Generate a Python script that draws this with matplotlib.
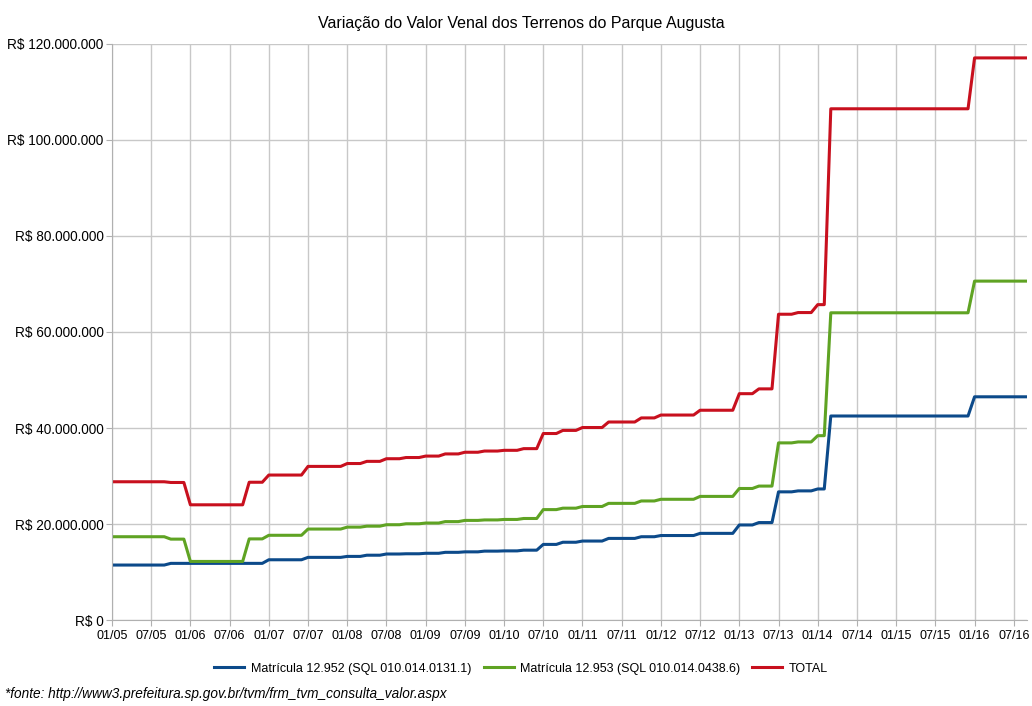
import matplotlib.pyplot as plt
from matplotlib.ticker import FuncFormatter, MultipleLocator

# valores mensais (milhoes de R$), 01/2005 .. 09/2016
blue = [11.45, 11.45, 11.45, 11.45, 11.45, 11.45, 11.45, 11.45, 11.45, 11.8, 11.8, 11.8,
        11.8, 11.8, 11.8, 11.8, 11.8, 11.8, 11.8, 11.8, 11.8, 11.8, 11.8, 11.8,
        12.55, 12.55, 12.55, 12.55, 12.55, 12.55, 13.05, 13.05, 13.05, 13.05, 13.05, 13.05,
        13.25, 13.25, 13.25, 13.5, 13.5, 13.5, 13.75, 13.75, 13.75, 13.8, 13.8, 13.8,
        13.9, 13.9, 13.9, 14.1, 14.1, 14.1, 14.2, 14.2, 14.2, 14.35, 14.35, 14.35,
        14.4, 14.4, 14.4, 14.55, 14.55, 14.55, 15.75, 15.75, 15.75, 16.2, 16.2, 16.2,
        16.45, 16.45, 16.45, 16.45, 17.0, 17.0, 17.0, 17.0, 17.0, 17.35, 17.35, 17.35,
        17.6, 17.6, 17.6, 17.6, 17.6, 17.6, 18.05, 18.05, 18.05, 18.05, 18.05, 18.05,
        19.8, 19.8, 19.8, 20.3, 20.3, 20.3, 26.7, 26.7, 26.7, 26.9, 26.9, 26.9,
        27.3, 27.3, 42.5, 42.5, 42.5, 42.5, 42.5, 42.5, 42.5, 42.5, 42.5, 42.5,
        42.5, 42.5, 42.5, 42.5, 42.5, 42.5, 42.5, 42.5, 42.5, 42.5, 42.5, 42.5,
        46.5, 46.5, 46.5, 46.5, 46.5, 46.5, 46.5, 46.5, 46.5]

green = [17.35, 17.35, 17.35, 17.35, 17.35, 17.35, 17.35, 17.35, 17.35, 16.85, 16.85, 16.85,
         12.2, 12.2, 12.2, 12.2, 12.2, 12.2, 12.2, 12.2, 12.2, 16.9, 16.9, 16.9,
         17.65, 17.65, 17.65, 17.65, 17.65, 17.65, 18.95, 18.95, 18.95, 18.95, 18.95, 18.95,
         19.35, 19.35, 19.35, 19.55, 19.55, 19.55, 19.85, 19.85, 19.85, 20.05, 20.05, 20.05,
         20.2, 20.2, 20.2, 20.5, 20.5, 20.5, 20.75, 20.75, 20.75, 20.85, 20.85, 20.85,
         20.95, 20.95, 20.95, 21.15, 21.15, 21.15, 23.0, 23.0, 23.0, 23.3, 23.3, 23.3,
         23.65, 23.65, 23.65, 23.65, 24.3, 24.3, 24.3, 24.3, 24.3, 24.8, 24.8, 24.8,
         25.15, 25.15, 25.15, 25.15, 25.15, 25.15, 25.75, 25.75, 25.75, 25.75, 25.75, 25.75,
         27.4, 27.4, 27.4, 27.9, 27.9, 27.9, 36.9, 36.9, 36.9, 37.1, 37.1, 37.1,
         38.4, 38.4, 64.0, 64.0, 64.0, 64.0, 64.0, 64.0, 64.0, 64.0, 64.0, 64.0,
         64.0, 64.0, 64.0, 64.0, 64.0, 64.0, 64.0, 64.0, 64.0, 64.0, 64.0, 64.0,
         70.6, 70.6, 70.6, 70.6, 70.6, 70.6, 70.6, 70.6, 70.6]

total = [28.8, 28.8, 28.8, 28.8, 28.8, 28.8, 28.8, 28.8, 28.8, 28.65, 28.65, 28.65,
         24.0, 24.0, 24.0, 24.0, 24.0, 24.0, 24.0, 24.0, 24.0, 28.7, 28.7, 28.7,
         30.2, 30.2, 30.2, 30.2, 30.2, 30.2, 32.0, 32.0, 32.0, 32.0, 32.0, 32.0,
         32.6, 32.6, 32.6, 33.05, 33.05, 33.05, 33.6, 33.6, 33.6, 33.85, 33.85, 33.85,
         34.15, 34.15, 34.15, 34.6, 34.6, 34.6, 34.95, 34.95, 34.95, 35.2, 35.2, 35.2,
         35.35, 35.35, 35.35, 35.7, 35.7, 35.7, 38.85, 38.85, 38.85, 39.5, 39.5, 39.5,
         40.1, 40.1, 40.1, 40.1, 41.25, 41.25, 41.25, 41.25, 41.25, 42.1, 42.1, 42.1,
         42.7, 42.7, 42.7, 42.7, 42.7, 42.7, 43.7, 43.7, 43.7, 43.7, 43.7, 43.7,
         47.15, 47.15, 47.15, 48.15, 48.15, 48.15, 63.7, 63.7, 63.7, 64.05, 64.05, 64.05,
         65.7, 65.7, 106.5, 106.5, 106.5, 106.5, 106.5, 106.5, 106.5, 106.5, 106.5, 106.5,
         106.5, 106.5, 106.5, 106.5, 106.5, 106.5, 106.5, 106.5, 106.5, 106.5, 106.5, 106.5,
         117.1, 117.1, 117.1, 117.1, 117.1, 117.1, 117.1, 117.1, 117.1]

tick_labels = ["01/05", "07/05", "01/06", "07/06", "01/07", "07/07", "01/08", "07/08",
               "01/09", "07/09", "01/10", "07/10", "01/11", "07/11", "01/12", "07/12",
               "01/13", "07/13", "01/14", "07/14", "01/15", "07/15", "01/16", "07/16"]

plt.rcParams['font.family'] = ['Liberation Sans', 'DejaVu Sans']

fig = plt.figure(figsize=(10.32, 7.06), dpi=100)
ax = fig.add_axes([0.1085, 0.1218, 0.8865, 0.8159])

x = range(len(blue))
ax.plot(x, [v * 1e6 for v in blue], color="#0c4a8a", lw=2.2,
        label="Matrícula 12.952 (SQL 010.014.0131.1)")
ax.plot(x, [v * 1e6 for v in green], color="#5fa323", lw=2.2,
        label="Matrícula 12.953 (SQL 010.014.0438.6)")
ax.plot(x, [v * 1e6 for v in total], color="#c8101e", lw=2.2, label="TOTAL")

ax.set_xlim(0, len(blue) - 1)
ax.set_ylim(0, 120e6)
ax.set_xticks(range(0, 6 * len(tick_labels), 6))
ax.set_xticklabels(tick_labels)
ax.yaxis.set_major_locator(MultipleLocator(20e6))
ax.yaxis.set_major_formatter(FuncFormatter(
    lambda v, p: "R$ " + f"{int(round(v)):,}".replace(",", ".")))
ax.tick_params(labelsize=9.8, colors="#b0b0b0", labelcolor="black", length=4, pad=2)
ax.tick_params(axis="x", labelsize=9, pad=3)

ax.grid(True, color="#c8c8c8", lw=1)
ax.set_axisbelow(True)
for s in ["top", "right"]:
    ax.spines[s].set_visible(False)
for s in ["left", "bottom"]:
    ax.spines[s].set_color("#b0b0b0")

fig.suptitle("Variação do Valor Venal dos Terrenos do Parque Augusta",
             x=0.505, y=0.978, fontsize=11.5)
fig.legend(loc="center", bbox_to_anchor=(0.505, 0.053), ncol=3, frameon=False,
           fontsize=9, handlelength=2.4, columnspacing=1.0, handletextpad=0.5)
fig.text(0.005, 0.011, "*fonte: http://www3.prefeitura.sp.gov.br/tvm/frm_tvm_consulta_valor.aspx",
         fontsize=9.8, style="italic")

fig.savefig("out.png", dpi=100)
